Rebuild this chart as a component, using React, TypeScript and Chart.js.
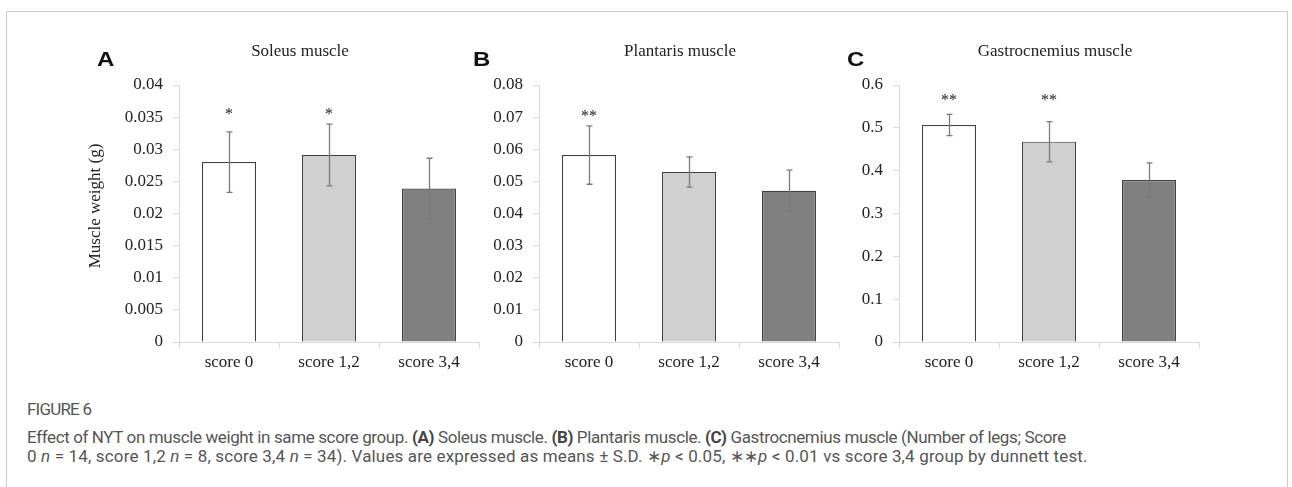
import React, { useEffect, useRef } from "react";
import { Chart, registerables } from "chart.js";

Chart.register(...registerables);

// ---------- data ----------
const categories = ["score 0", "score 1,2", "score 3,4"];
const barColors = ["#ffffff", "#d0d0d0", "#808080"];

const soleusMeans = [0.028, 0.0291, 0.0239];
const soleusSD = [0.0047, 0.0048, 0.0047];
const soleusStars = ["*", "*", ""];
const soleusStarLevel = [0.0355, 0.0355, 0];

const plantarisMeans = [0.0582, 0.0529, 0.0471];
const plantarisSD = [0.0091, 0.0047, 0.0064];
const plantarisStars = ["**", "", ""];
const plantarisStarLevel = [0.0703, 0, 0];

const gastroMeans = [0.5066, 0.4677, 0.378];
const gastroSD = [0.025, 0.047, 0.040];
const gastroStars = ["**", "**", ""];
const gastroStarLevel = [0.565, 0.565, 0];

const SERIF = "'Liberation Serif', 'Times New Roman', serif";
const TEXT = "#222222";
const AXIS = "#d9d9d9";

const errorBarPlugin = {
  id: "errorBars",
  afterDatasetsDraw(chart: any, _args: any, opts: any) {
    const { ctx } = chart;
    const y = chart.scales.y;
    const meta = chart.getDatasetMeta(0);
    ctx.save();
    ctx.strokeStyle = "#7a7a7a";
    ctx.lineWidth = 1.3;
    meta.data.forEach((bar: any, i: number) => {
      const m = opts.means[i];
      const s = opts.sds[i];
      const x = Math.round(bar.x) + 0.5;
      const yt = y.getPixelForValue(m + s);
      const yb = y.getPixelForValue(m - s);
      ctx.beginPath();
      ctx.moveTo(x, yt);
      ctx.lineTo(x, yb);
      ctx.moveTo(x - 3, yt);
      ctx.lineTo(x + 3, yt);
      ctx.moveTo(x - 3, yb);
      ctx.lineTo(x + 3, yb);
      ctx.stroke();
    });
    ctx.fillStyle = TEXT;
    ctx.font = `16px ${SERIF}`;
    ctx.textAlign = "center";
    ctx.textBaseline = "middle";
    meta.data.forEach((bar: any, i: number) => {
      const st = opts.stars[i];
      if (!st) return;
      const yy = y.getPixelForValue(opts.starLevels[i]);
      ctx.fillText(st, bar.x, yy + 1);
    });
    ctx.restore();
  },
};

type PanelProps = {
  left: number;
  width: number;
  yWidth: number;
  max: number;
  step: number;
  means: number[];
  sds: number[];
  stars: string[];
  starLevels: number[];
};

function Panel(p: PanelProps) {
  const ref = useRef<HTMLCanvasElement>(null);
  useEffect(() => {
    const chart = new Chart(ref.current as HTMLCanvasElement, {
      type: "bar",
      data: {
        labels: categories,
        datasets: [
          {
            data: p.means,
            backgroundColor: barColors,
            borderColor: "#404040",
            borderWidth: 1.2,
            categoryPercentage: 1,
            barPercentage: 0.54,
          },
        ],
      },
      options: {
        responsive: false,
        animation: false,
        devicePixelRatio: 1,
        layout: { padding: { top: 85, right: p.width - p.yWidth - 300, left: 0, bottom: 0 } },
        plugins: {
          legend: { display: false },
          tooltip: { enabled: false },
          title: { display: false },
          errorBars: { means: p.means, sds: p.sds, stars: p.stars, starLevels: p.starLevels },
        } as any,
        scales: {
          x: {
            grid: { drawOnChartArea: false, color: AXIS, tickLength: 6, offset: true },
            border: { color: AXIS },
            ticks: { color: TEXT, font: { family: SERIF, size: 17 }, padding: 4, maxRotation: 0 },
            afterFit: (s: any) => {
              s.height = 38;
            },
          },
          y: {
            min: 0,
            max: p.max,
            grid: { drawOnChartArea: false, color: AXIS, tickLength: 6 },
            border: { color: AXIS },
            ticks: {
              stepSize: p.step,
              color: TEXT,
              font: { family: SERIF, size: 17 },
              padding: 10,
              callback: (v: any) => String(parseFloat(Number(v).toFixed(4))),
            },
            afterFit: (s: any) => {
              s.width = p.yWidth;
            },
          },
        },
      },
      plugins: [errorBarPlugin],
    });
    return () => chart.destroy();
  }, []);
  return (
    <canvas
      ref={ref}
      width={p.width}
      height={380}
      style={{ position: "absolute", left: p.left, top: 0, width: p.width, height: 380 }}
    />
  );
}

const abs = (o: React.CSSProperties): React.CSSProperties => ({ position: "absolute", whiteSpace: "nowrap", ...o });

export default function App() {
  const titleStyle = (cx: number): React.CSSProperties =>
    abs({ left: cx - 150, width: 300, top: 41, textAlign: "center", font: `17px ${SERIF}`, lineHeight: "20px", color: TEXT });
  const letterStyle = (x: number): React.CSSProperties =>
    abs({
      left: x,
      top: 49,
      font: "bold 20px 'Liberation Sans', Arial, sans-serif",
      lineHeight: "20px",
      color: "#111",
      transform: "scaleX(1.2)",
      transformOrigin: "left center",
    });
  const capFont = "Roboto, 'Open Sans', sans-serif";
  const capStyle = (top: number, ls: number): React.CSSProperties =>
    abs({ left: 27, top, font: `17px ${capFont}`, lineHeight: "20px", color: "#555", letterSpacing: `${ls}px` });
  const b: React.CSSProperties = { fontWeight: 700, color: "#444" };
  return (
    <div style={{ position: "absolute", left: 0, top: 0, width: 1292, height: 487, overflow: "hidden", background: "#fff" }}>
      <div style={abs({ left: 6, top: 11, width: 1280, height: 500, border: "1px solid #cccccc" })} />
      <Panel left={0} width={480} yWidth={179} max={0.04} step={0.005} means={soleusMeans} sds={soleusSD} stars={soleusStars} starLevels={soleusStarLevel} />
      <Panel left={480} width={370} yWidth={59} max={0.08} step={0.01} means={plantarisMeans} sds={plantarisSD} stars={plantarisStars} starLevels={plantarisStarLevel} />
      <Panel left={850} width={370} yWidth={49} max={0.6} step={0.1} means={gastroMeans} sds={gastroSD} stars={gastroStars} starLevels={gastroStarLevel} />
      <div style={letterStyle(97)}>A</div>
      <div style={letterStyle(473)}>B</div>
      <div style={letterStyle(847)}>C</div>
      <div style={titleStyle(300)}>Soleus muscle</div>
      <div style={titleStyle(680)}>Plantaris muscle</div>
      <div style={titleStyle(1055)}>Gastrocnemius muscle</div>
      <div
        style={abs({
          left: 95 - 100,
          top: 206 - 10,
          width: 200,
          height: 20,
          textAlign: "center",
          font: `17px ${SERIF}`,
          lineHeight: "20px",
          color: TEXT,
          transform: "rotate(-90deg)",
        })}
      >
        Muscle weight (g)
      </div>
      <div style={capStyle(399, -0.8)}>FIGURE 6</div>
      <div style={capStyle(427, -0.38)}>
        Effect of NYT on muscle weight in same score group. <span style={b}>(A)</span> Soleus muscle.{" "}
        <span style={b}>(B)</span> Plantaris muscle. <span style={b}>(C)</span> Gastrocnemius muscle (Number of legs; Score
      </div>
      <div style={capStyle(446, 0.15)}>
        0 <i>n</i> = 14, score 1,2 <i>n</i> = 8, score 3,4 <i>n</i> = 34). Values are expressed as means ± S.D. ∗<i>p</i> &lt; 0.05,
        ∗∗<i>p</i> &lt; 0.01 vs score 3,4 group by dunnett test.
      </div>
    </div>
  );
}
